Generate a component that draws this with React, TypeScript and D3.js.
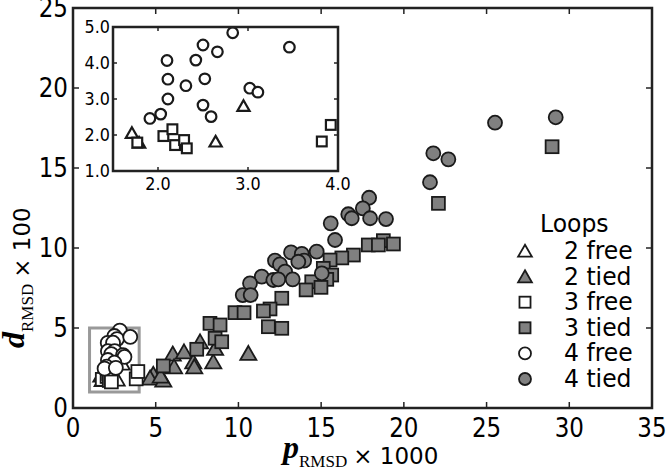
import React from 'react';
import * as d3 from 'd3';

// free loops (these are also the points shown in the inset)
const free2 = [[1.71, 2.06], [1.79, 1.79], [2.64, 1.82], [2.95, 2.81]];
const free3 = [
  [1.77, 1.79], [2.06, 1.97], [2.16, 2.16], [2.19, 1.72],
  [2.29, 1.86], [2.32, 1.63], [3.82, 1.82], [3.92, 2.28],
];
const free4 = [
  [2.83, 4.84], [2.5, 4.5], [2.66, 4.31], [3.46, 4.44], [2.1, 4.07], [2.42, 4.08],
  [2.11, 3.55], [2.52, 3.56], [2.31, 3.37], [3.02, 3.3], [3.11, 3.19], [2.11, 3.0],
  [2.5, 2.83], [2.03, 2.58], [1.91, 2.46], [2.59, 2.51],
];

// tied loops
const tied2 = [
  [4.85, 2.12], [4.66, 1.88], [5.46, 1.75], [5.3, 2.0], [6.03, 3.38], [6.71, 3.52],
  [6.11, 2.58], [7.27, 2.89], [7.33, 2.58], [7.68, 4.14], [8.48, 2.89], [8.59, 3.73],
  [10.6, 3.42],
];
const tied3 = [
  [28.96, 16.33], [22.09, 12.79], [17.85, 10.19], [18.76, 10.46], [19.37, 10.25],
  [18.46, 10.19], [16.95, 9.56], [16.25, 9.38], [15.54, 9.25], [15.13, 8.73],
  [15.64, 8.31], [15.34, 8.04], [14.43, 7.89], [14.09, 7.38], [14.99, 7.54],
  [12.62, 6.86], [11.91, 6.19], [11.51, 6.06], [9.79, 5.96], [10.34, 5.96],
  [11.81, 5.08], [12.62, 4.98], [8.28, 5.29], [8.89, 5.19], [8.59, 4.36],
  [8.99, 4.14], [7.48, 3.67], [5.46, 2.63],
];
const tied4 = [
  [29.18, 18.17], [25.51, 17.83], [21.78, 15.92], [22.69, 15.54], [21.58, 14.11],
  [17.9, 13.14], [17.52, 12.48], [16.64, 12.11], [16.85, 11.86], [17.96, 11.86],
  [18.92, 11.81], [15.58, 11.54], [15.84, 10.5], [14.73, 9.77], [13.18, 9.73],
  [13.83, 9.63], [12.21, 9.21], [12.51, 8.98], [13.97, 9.21], [13.62, 9.14],
  [12.82, 8.52], [11.41, 8.21], [10.7, 7.79], [12.11, 8.0], [12.41, 8.04],
  [13.28, 8.04], [10.26, 7.06], [10.74, 7.06], [15.04, 8.42],
];

const xTicks = [0, 5, 10, 15, 20, 25, 30, 35];
const yTicks = [0, 5, 10, 15, 20, 25];
const insetXTicks = [2.0, 3.0, 4.0];
const insetYTicks = [1.0, 2.0, 3.0, 4.0, 5.0];
const zoomBox = { x0: 1.0, x1: 4.0, y0: 1.0, y1: 5.0 };

const series = [
  { label: '2 free', shape: 'tri', fill: '#fff', data: free2 },
  { label: '2 tied', shape: 'tri', fill: '#808080', data: tied2 },
  { label: '3 free', shape: 'sq', fill: '#fff', data: free3 },
  { label: '3 tied', shape: 'sq', fill: '#808080', data: tied3 },
  { label: '4 free', shape: 'circ', fill: '#fff', data: free4 },
  { label: '4 tied', shape: 'circ', fill: '#808080', data: tied4 },
];

const EDGE = '#1a1a1a';
const SANS = 'DejaVu Sans, sans-serif';
const SERIF = 'Liberation Serif, DejaVu Serif, serif';
const SY = 1.14; // text in the original is slightly stretched vertically

function Marker({ shape, x, y, s, fill, sw }) {
  if (shape === 'circ') {
    return <circle cx={x} cy={y} r={s} fill={fill} stroke={EDGE} strokeWidth={sw} />;
  }
  if (shape === 'sq') {
    const h = s * 0.92;
    return <rect x={x - h} y={y - h} width={h * 2} height={h * 2} fill={fill} stroke={EDGE} strokeWidth={sw} />;
  }
  const w = s * 1.15;
  const p = `M${x},${y - s * 1.05}L${x + w},${y + s * 0.95}L${x - w},${y + s * 0.95}Z`;
  return <path d={p} fill={fill} stroke={EDGE} strokeWidth={sw} strokeLinejoin="miter" />;
}

function T({ x, y, children, size = 23, anchor = 'middle', sy = SY, family = SANS, ...rest }) {
  return (
    <text transform={`translate(${x},${y}) scale(1,${sy})`} fontSize={size} fontFamily={family}
      textAnchor={anchor} fill="#000" {...rest}>
      {children}
    </text>
  );
}

export default function App() {
  const x = d3.scaleLinear().domain([0, 35]).range([73, 652]);
  const y = d3.scaleLinear().domain([0, 25]).range([408, 8]);
  const ix = d3.scaleLinear().domain([1.5, 4.0]).range([113, 338]);
  const iy = d3.scaleLinear().domain([1.0, 5.0]).range([171, 27]);

  const insetSeries = series.filter(s => s.fill === '#fff');

  return (
    <div style={{ position: 'absolute', left: 0, top: 0 }}>
      <svg width={666} height={476} style={{ display: 'block', background: '#fff' }}>
        {/* zoom box */}
        <rect x={x(zoomBox.x0)} y={y(zoomBox.y1)} width={x(zoomBox.x1) - x(zoomBox.x0)}
          height={y(zoomBox.y0) - y(zoomBox.y1)} fill="none" stroke="#999" strokeWidth={3} />

        {/* points */}
        {series.map(s => (
          <g key={s.label}>
            {s.data.map((d, i) => (
              <Marker key={i} shape={s.shape} x={x(d[0])} y={y(d[1])} s={7} fill={s.fill} sw={1.8} />
            ))}
          </g>
        ))}

        {/* main frame and ticks */}
        <rect x={x(0)} y={y(25)} width={x(35) - x(0)} height={y(0) - y(25)} fill="none" stroke="#222" strokeWidth={2.5} />
        {xTicks.map(t => (
          <g key={'x' + t}>
            <line x1={x(t)} x2={x(t)} y1={y(0)} y2={y(0) - 6} stroke="#222" strokeWidth={1.5} />
            <line x1={x(t)} x2={x(t)} y1={y(25)} y2={y(25) + 6} stroke="#222" strokeWidth={1.5} />
            <T x={x(t)} y={437}>{t}</T>
          </g>
        ))}
        {yTicks.map(t => (
          <g key={'y' + t}>
            <line x1={x(0)} x2={x(0) + 6} y1={y(t)} y2={y(t)} stroke="#222" strokeWidth={1.5} />
            <line x1={x(35)} x2={x(35) - 6} y1={y(t)} y2={y(t)} stroke="#222" strokeWidth={1.5} />
            <T x={68} y={y(t) + 9} anchor="end">{t}</T>
          </g>
        ))}

        {/* axis labels */}
        <text x={283} y={458} fontFamily={SERIF} fill="#000">
          <tspan fontSize={32} fontWeight="bold" fontStyle="italic">p</tspan>
          <tspan fontSize={17} dy={9}>RMSD</tspan>
          <tspan fontSize={23} fontFamily={SANS} dy={-3} dx={6}>× 1000</tspan>
        </text>
        <text transform="translate(24,348) rotate(-90)" fontFamily={SERIF} fill="#000">
          <tspan fontSize={32} fontWeight="bold" fontStyle="italic">d</tspan>
          <tspan fontSize={17} dy={9}>RMSD</tspan>
          <tspan fontSize={23} fontFamily={SANS} dy={-3} dx={6}>× 100</tspan>
        </text>

        {/* inset */}
        <rect x={ix(1.5)} y={iy(5)} width={ix(4) - ix(1.5)} height={iy(1) - iy(5)} fill="#fff" />
        <g>
          {insetSeries.map(s => (
            <g key={'i' + s.label}>
              {s.data.map((d, i) => (
                <Marker key={i} shape={s.shape} x={ix(d[0])} y={iy(d[1])} s={5.3} fill="#fff" sw={2.2} />
              ))}
            </g>
          ))}
        </g>
        <rect x={ix(1.5)} y={iy(5)} width={ix(4) - ix(1.5)} height={iy(1) - iy(5)} fill="none" stroke="#222" strokeWidth={2.5} />
        {insetXTicks.map(t => (
          <g key={'ix' + t}>
            <line x1={ix(t)} x2={ix(t)} y1={iy(1)} y2={iy(1) - 4} stroke="#222" strokeWidth={1.5} />
            <line x1={ix(t)} x2={ix(t)} y1={iy(5)} y2={iy(5) + 4} stroke="#222" strokeWidth={1.5} />
            <T x={ix(t)} y={190} size={16}>{t.toFixed(1)}</T>
          </g>
        ))}
        {insetYTicks.map(t => (
          <g key={'iy' + t}>
            <line x1={ix(1.5)} x2={ix(1.5) + 4} y1={iy(t)} y2={iy(t)} stroke="#222" strokeWidth={1.5} />
            <line x1={ix(4)} x2={ix(4) - 4} y1={iy(t)} y2={iy(t)} stroke="#222" strokeWidth={1.5} />
            <T x={110} y={iy(t) + 6} size={16} anchor="end">{t.toFixed(1)}</T>
          </g>
        ))}

        {/* legend */}
        <T x={540} y={232} size={23.5} sy={1.05} anchor="start">Loops</T>
        {series.map((s, i) => (
          <g key={'l' + s.label}>
            <Marker shape={s.shape} x={525} y={251 + i * 25.6} s={6} fill={s.fill} sw={1.8} />
            <T x={564} y={259 + i * 25.6} size={23.5} sy={1.05} anchor="start">{s.label}</T>
          </g>
        ))}
      </svg>
    </div>
  );
}
